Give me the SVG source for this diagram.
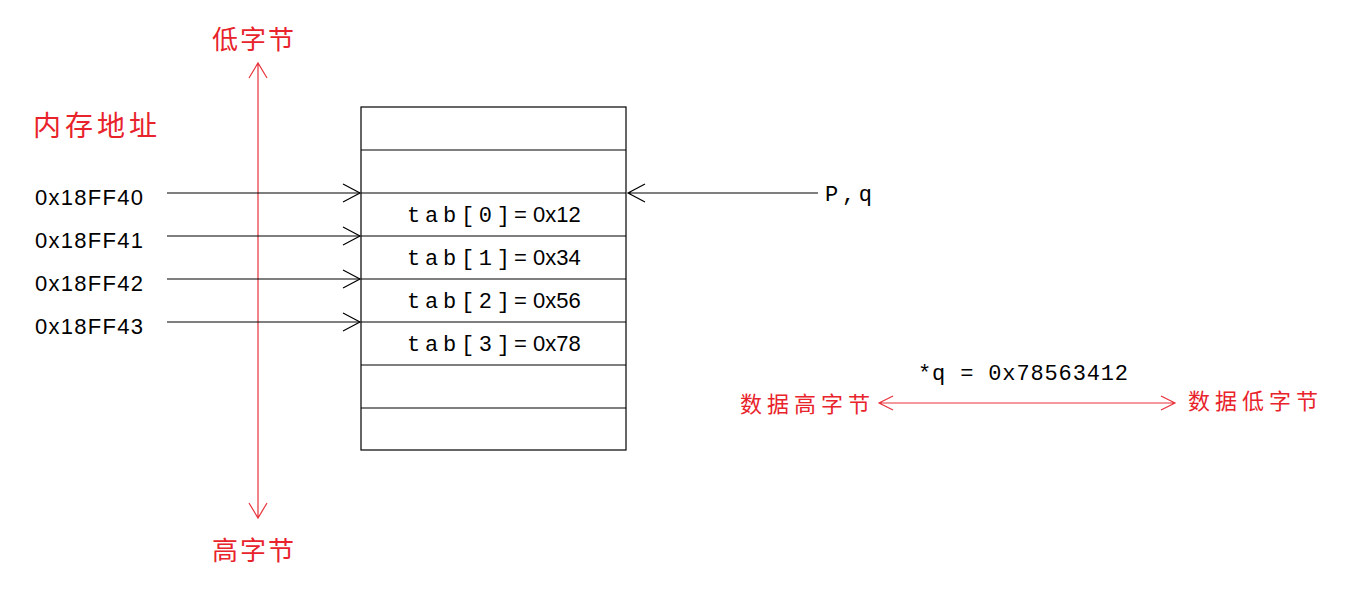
<svg xmlns="http://www.w3.org/2000/svg" width="1347" height="589" viewBox="0 0 1347 589">
<style>
.k{stroke:#000;stroke-width:1.2;fill:none}
.r{stroke:#e8323a;stroke-width:1.2;fill:none}
.rt{fill:#e8232b;font-family:"Noto Sans CJK SC",sans-serif}
.t{font-family:"Liberation Sans","DejaVu Sans",sans-serif;font-size:22px;fill:#000}
.m{font-family:"Liberation Mono","DejaVu Sans Mono",monospace;font-size:22px;fill:#000}
</style>
<rect width="1347" height="589" fill="#fff"/>
<g id="memory">
<rect class="k" x="361" y="107" width="265" height="343"/>
<path class="k" d="M361 150H626M361 193H626M361 236H626M361 279H626M361 322H626M361 365H626M361 408H626"/>
<text x="407" y="222" class="m" textLength="103">tab[0]</text><text x="514" y="222" class="t">= 0x12</text>
<text x="407" y="265" class="m" textLength="103">tab[1]</text><text x="514" y="265" class="t">= 0x34</text>
<text x="407" y="308" class="m" textLength="103">tab[2]</text><text x="514" y="308" class="t">= 0x56</text>
<text x="407" y="351" class="m" textLength="103">tab[3]</text><text x="514" y="351" class="t">= 0x78</text>
</g>
<g id="labels">
<text x="212" y="49" class="rt" font-size="26" letter-spacing="2">低字节</text>
<text x="212" y="560" class="rt" font-size="26" letter-spacing="2">高字节</text>
<text x="33" y="136" class="rt" font-size="28" letter-spacing="4">内存地址</text>
<text x="35" y="205" class="t" textLength="108">0x18FF40</text>
<text x="35" y="248" class="t" textLength="108">0x18FF41</text>
<text x="35" y="291" class="t" textLength="108">0x18FF42</text>
<text x="35" y="334" class="t" textLength="108">0x18FF43</text>
<text x="825" y="201" class="m" textLength="47">P,q</text>
<text x="918" y="380" class="m" textLength="210">*q = 0x78563412</text>
<text x="740" y="412" class="rt" font-size="22" letter-spacing="5">数据高字节</text>
<text x="1188" y="409" class="rt" font-size="22" letter-spacing="5">数据低字节</text>
</g>
<g id="connectors">
<path class="r" d="M258 64V517M249 78L258 63L267 78M249 503L258 518L267 503"/>
<path class="r" d="M879 403H1175M893 396L879 403L893 410M1161 396L1175 403L1161 410"/>
<path class="k" d="M167 193H360M167 236H360M167 279H360M167 322H360"/>
<path class="k" d="M343 184L360 193L343 202M343 227L360 236L343 245M343 270L360 279L343 288M343 313L360 322L343 331"/>
<path class="k" d="M818 193H628M645 184L628 193L645 202"/>
</g>
</svg>
